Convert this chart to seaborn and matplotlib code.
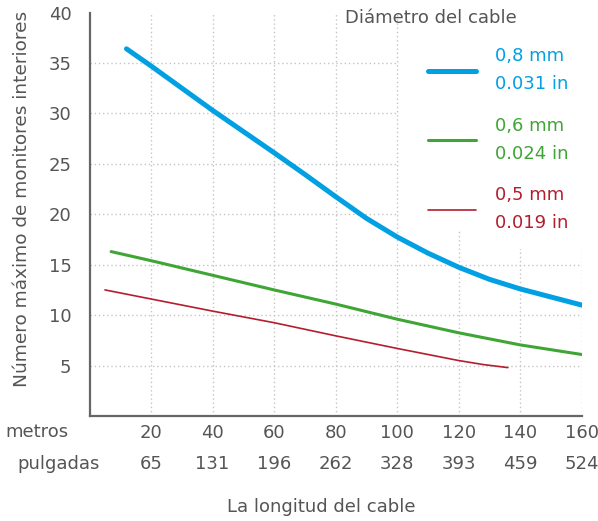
import pandas as pd
import matplotlib.pyplot as plt
import matplotlib.patches as patches
import numpy as np
import seaborn as sns

# values (length in metres, max monitors)
len_08 = [12, 20, 40, 60, 70, 80, 90, 100, 110, 120, 130, 140, 150, 160]
mon_08 = [36.4, 34.7, 30.3, 26.1, 23.95, 21.75, 19.6, 17.75, 16.15, 14.75,
          13.55, 12.6, 11.8, 11.0]

len_06 = [7, 20, 40, 60, 80, 100, 120, 140, 160]
mon_06 = [16.3, 15.4, 13.95, 12.5, 11.1, 9.6, 8.25, 7.05, 6.1]

len_05 = [5, 20, 40, 60, 80, 100, 120, 128, 136]
mon_05 = [12.5, 11.6, 10.4, 9.25, 7.95, 6.7, 5.5, 5.1, 4.8]

metros = [20, 40, 60, 80, 100, 120, 140, 160]
pulgadas = ["65", "131", "196", "262", "328", "393", "459", "524"]
y_ticks = [5, 10, 15, 20, 25, 30, 35, 40]

labels = ["0,8 mm\n0.031 in", "0,6 mm\n0.024 in", "0,5 mm\n0.019 in"]
colors = ["#00a0e3", "#3fa535", "#b31e2e"]
widths = [3.6, 2.2, 1.2]

sns.set_theme(style="white")
plt.rcParams['font.family'] = ['DejaVu Sans']
gray = "#555555"

fig = plt.figure(figsize=(5.98, 5.21), dpi=100)
ax = fig.add_axes([0.1498, 0.2015, 0.9727 - 0.1498, 0.976 - 0.2015])

#lines
series = [(len_08, mon_08), (len_06, mon_06), (len_05, mon_05)]
for (xs, ys), lab, c, w in zip(series, labels, colors, widths):
    df = pd.DataFrame({'len': xs, 'mon': ys})
    sns.lineplot(data=df, x='len', y='mon', ax=ax, color=c, linewidth=w,
                 label=lab, zorder=3)

ax.set_xlim(0, 160)
ax.set_ylim(0, 40)
ax.set_yticks(y_ticks)
ax.set_xticks(metros, [f"{m}\n{p}" for m, p in zip(metros, pulgadas)])
for t in ax.get_xticklabels():
    t.set_linespacing(1.87)
ax.tick_params(axis='both', length=0, labelsize=13, colors=gray)
ax.tick_params(axis='x', pad=6)
ax.tick_params(axis='y', pad=13)
ax.set_xlabel('')
ax.set_ylabel('')

# dotted grid
ax.grid(True, linestyle=(0, (1, 2)), color="#c4c4c4", linewidth=1)
ax.set_axisbelow(True)
ax.yaxis.get_gridlines()[-1].set_visible(False)

for s in ['top', 'right']:
    ax.spines[s].set_visible(False)
for s in ['left', 'bottom']:
    ax.spines[s].set_color("#666666")
    ax.spines[s].set_linewidth(1.6)

# white area behind the legend
ax.add_patch(patches.Rectangle((100.6, 18.4), 30, 23, facecolor='white',
                               edgecolor='none', zorder=1, clip_on=False))
ax.add_patch(patches.Rectangle((130, 16.6), 35, 25, facecolor='white',
                               edgecolor='none', zorder=1, clip_on=False))

leg = ax.legend(loc='upper left', bbox_to_anchor=(428 / 598, 1 - 47 / 521),
                bbox_transform=fig.transFigure, frameon=False, borderpad=0,
                borderaxespad=0, handlelength=2.67, handletextpad=1.05,
                labelspacing=1.3, fontsize=13, labelcolor='linecolor')
for t in leg.get_texts():
    t.set_linespacing(1.72)

fig.text(345 / 598, 1 - 18 / 521, "Diámetro del cable", ha='left', va='center',
         fontsize=13, color=gray)
fig.text(22 / 598, 1 - 199 / 521, "Número máximo de monitores interiores",
         rotation=90, ha='center', va='center', fontsize=13.3, color=gray)
fig.text(321 / 598, 1 - 507 / 521, "La longitud del cable", ha='center',
         va='center', fontsize=13, color=gray)
fig.text(5 / 598, 1 - 432 / 521, "metros", ha='left', va='center',
         fontsize=13, color=gray)
fig.text(17 / 598, 1 - 464 / 521, "pulgadas", ha='left', va='center',
         fontsize=13, color=gray)

fig.savefig("out.png", dpi=100)
